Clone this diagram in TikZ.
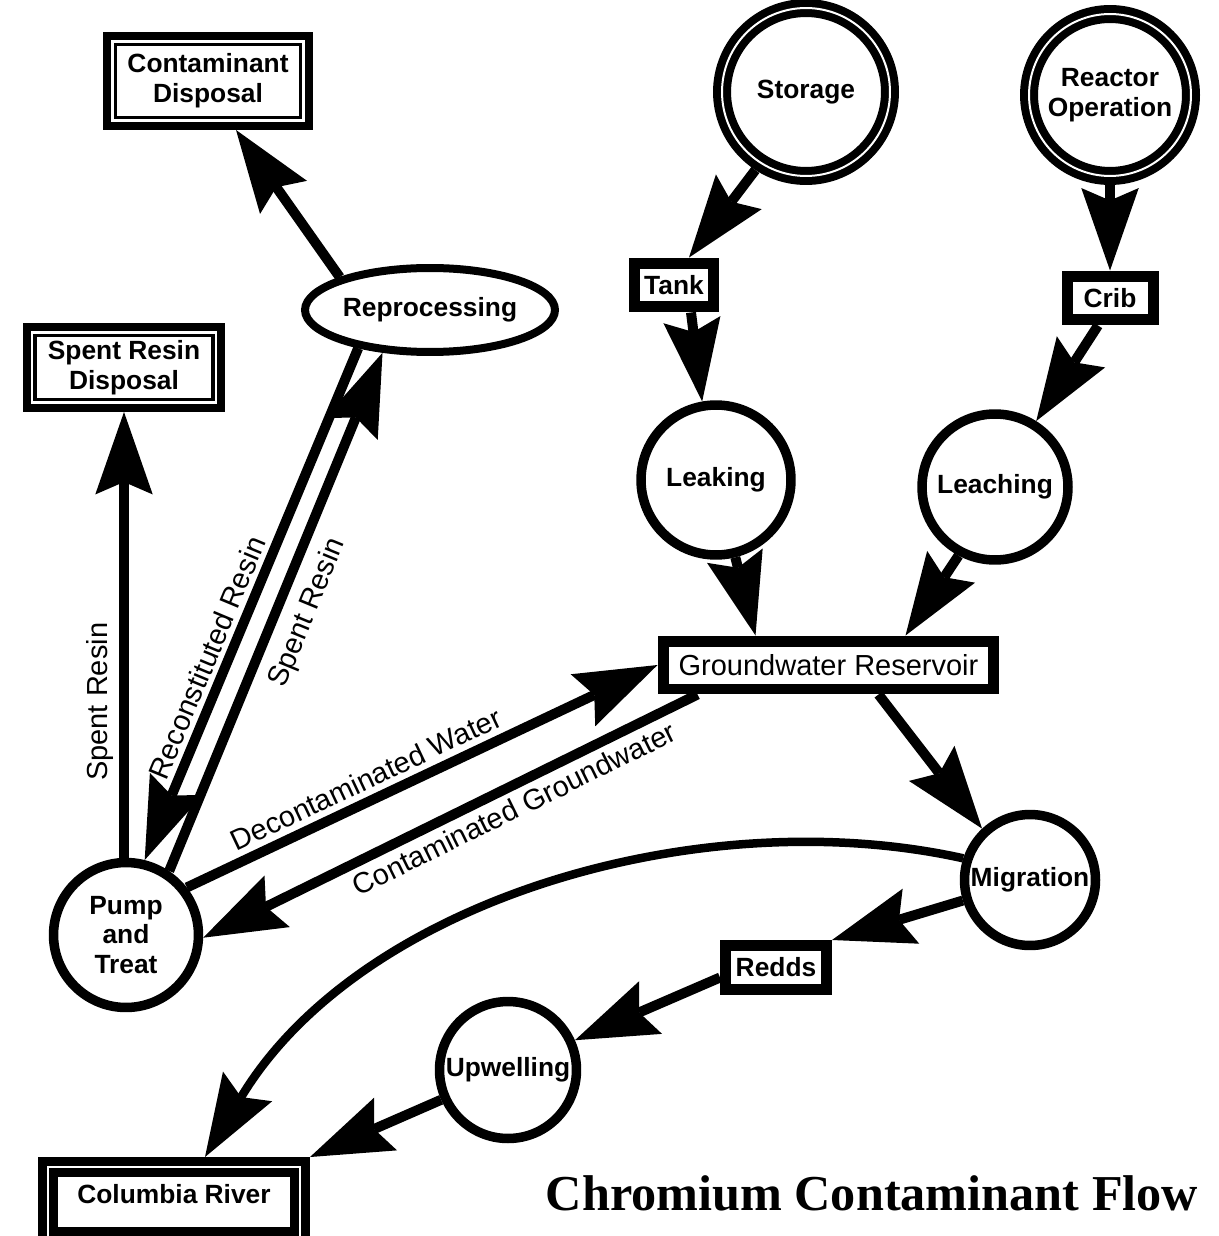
\documentclass[tikz,border=0pt]{standalone}
\usepackage{fontspec}
\setmainfont{Liberation Sans}
\newfontfamily\titleserif{Liberation Serif}
\usetikzlibrary{arrows.meta,calc,shapes.geometric}
\newcommand\ndfont{\fontsize{15pt}{17pt}\selectfont\bfseries}
\newcommand\lbfont{\fontsize{16.5pt}{19pt}\selectfont}

\begin{document}
\begin{tikzpicture}[x=0.02cm,y=-0.02cm,
  proc/.style={circle, draw, line width=0.19cm, inner sep=0pt, align=center, font=\ndfont, fill=white},
  src/.style={circle, draw, line width=0.16cm, double=white, double distance=0.04cm,
    outer sep=0.18cm, inner sep=0pt, align=center, font=\ndfont},
  stage/.style={rectangle, draw, line width=0.22cm, inner sep=0pt, font=\ndfont, fill=white},
  sink/.style={rectangle, draw, line width=0.16cm, inner sep=0pt, align=center, font=\ndfont,
    path picture={\draw[line width=0.07cm]
      ([xshift=0.17cm,yshift=0.17cm]path picture bounding box.south west) rectangle
      ([xshift=-0.17cm,yshift=-0.17cm]path picture bounding box.north east);}},
  arr/.style={line width=0.2cm, -{Stealth[length=1.65cm, width=1.15cm, inset=0.25cm, line width=0pt]}},
  lbl/.style={font=\lbfont, inner sep=1pt}
]
\fill[white] (0,0) rectangle (1218,1236);
\useasboundingbox (0,0) rectangle (1218,1236);

% disposal boxes and reprocessing
\node[sink, minimum width=4.04cm, minimum height=1.8cm] (cd) at (208,81) {Contaminant\\Disposal};
\node[sink, minimum width=3.9cm, minimum height=1.62cm] (srd) at (124,367.5) {Spent Resin\\Disposal};
\node[ellipse, draw, line width=0.16cm, minimum width=5cm, minimum height=1.68cm,
      inner sep=0pt, font=\ndfont] (rep) at (430,310) {Reprocessing};

% sources
\node[src, minimum size=3.36cm] (st) at (806,92) {Storage};
\node[src, minimum size=3.24cm] (rx) at (1110,95) {Reactor\\Operation};

% stages
\node[stage, minimum width=1.58cm, minimum height=0.88cm] (tank) at (674,285) {Tank};
\node[stage, minimum width=1.72cm, minimum height=0.88cm] (crib) at (1110,298) {Crib};
\node[proc, minimum size=3cm] (lk) at (716,480) {Leaking};
\node[proc, minimum size=2.92cm] (lc) at (995,487) {Leaching};
\node[stage, minimum width=6.62cm, minimum height=0.96cm, font=\lbfont] (gw) at (828.5,665) {Groundwater Reservoir};
\node[proc, minimum size=2.62cm] (mg) at (1030,880) {Migration};
\node[proc, minimum size=2.9cm] (pt) at (126,935) {Pump\\and\\Treat};
\node[stage, minimum width=2.02cm, minimum height=0.88cm] (rd) at (776,967.5) {Redds};
\node[proc, minimum size=2.74cm] (uw) at (508,1070) {Upwelling};
\node[rectangle, draw, line width=0.18cm, double=white, double distance=0.04cm,
      outer sep=0.2cm, inner sep=0pt, minimum width=5.04cm,
      text height=0.72cm, text depth=0.68cm, font=\ndfont] (cr) at (174,1202) {Columbia River};

\node[font={\titleserif\fontsize{28.6pt}{32pt}\selectfont\bfseries}] (title) at (872,1193)
  {Chromium Contaminant Flow};

% flows
\draw[arr] (rep.160) -- ($(cd.south)+(28,0)$);
\draw[arr] (pt.north -| srd.south) -- node[lbl, sloped, above=0.08cm, pos=0.35] {Spent Resin} (srd.south);
\draw[arr] (rep.208) -- node[lbl, sloped, above=0.06cm, pos=0.62] {Reconstituted Resin} (pt.76);
\draw[arr] (pt.56) -- node[lbl, sloped, below=0.2cm, pos=0.52] {Spent Resin} (rep.222);
\draw[arr] (pt.38) -- node[lbl, sloped, above=0.08cm, pos=0.4] {Decontaminated Water} (gw.west);
\draw[arr] ($(gw.south west)+(40,0)$) -- node[lbl, sloped, below=0.08cm, pos=0.39] {Contaminated Groundwater} (pt.-2);

\draw[arr] (st.237) -- ($(tank.north)+(15,0)$);
\draw[arr] ($(tank.south)+(17,0)$) -- (lk.100);
\draw[arr] (rx) -- (crib);
\draw[arr] ($(crib.south)+(-12,0)$) -- (lc.58);
\draw[arr] (lk.-76) -- ($(gw.north)+(-73,0)$);
\draw[arr] (lc.242) -- ($(gw.north)+(77,0)$);
\draw[arr] ($(gw.south)+(50,0)$) -- (mg.133);
\draw[arr] (mg.197) -- (rd.north east);
\draw[arr] ($(rd.west)+(0,10)$) -- (uw.24);
\draw[arr] (uw.204) -- (cr.north east);
\draw[arr, line width=0.17cm] (mg.162) .. controls (700,800) and (360,900) .. ($(cr.north)+(31,0)$);
\end{tikzpicture}
\end{document}
